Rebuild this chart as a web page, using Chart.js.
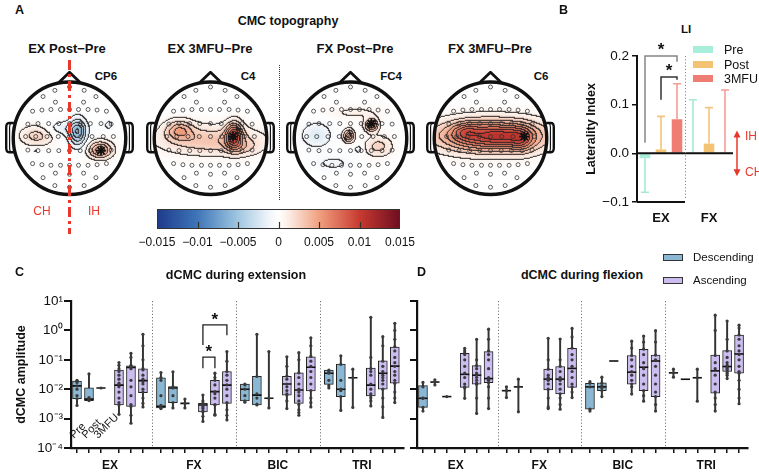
<!DOCTYPE html>
<html lang="en">
<head>
<meta charset="UTF-8">
<title>CMC topography, LI and dCMC</title>
<script src="https://cdn.jsdelivr.net/npm/chart.js"></script>
<style>
  body { margin: 0; width: 759px; height: 473px; position: relative; overflow: hidden; background: #fff;
         font-family: 'Liberation Sans', Arial, sans-serif; color: #111; }
  canvas, .t, .sw { position: absolute; }
  .t { white-space: nowrap; line-height: 1; }
  .c { transform: translate(-50%, -50%); }
  .m { transform: translateY(-50%); }
  .b { font-weight: bold; }
  .red { color: #e8382b; }
  .sw { border: 1px solid #333; box-sizing: border-box; }
</style>
</head>
<body>
  <!-- A -->
  <div class="t b" style="left:15px;top:4px;font-size:12.5px">A</div>
  <div class="t b c" style="left:288px;top:21px;font-size:12.5px">CMC topography</div>
  <div id="headTitles"></div>
  <canvas id="head0" width="143" height="146" style="left:-2px;top:61px"></canvas>
  <canvas id="head1" width="143" height="146" style="left:139px;top:61px"></canvas>
  <canvas id="head2" width="143" height="146" style="left:279px;top:61px"></canvas>
  <canvas id="head3" width="143" height="146" style="left:419px;top:61px"></canvas>
  <div style="position:absolute;left:279px;top:65px;height:135px;border-left:1.5px dotted #333"></div>
  <div style="position:absolute;left:68px;top:60px;width:3px;height:174px;
       background:repeating-linear-gradient(to bottom,#e8382b 0 10px,transparent 10px 14px,#e8382b 14px 17px,transparent 17px 21px)"></div>
  <div class="t c red" style="left:42px;top:211px;font-size:12px">CH</div>
  <div class="t c red" style="left:94px;top:211px;font-size:12px">IH</div>
  <canvas id="cbar" width="330" height="50" style="left:110px;top:200px"></canvas>

  <!-- B -->
  <div class="t b" style="left:559px;top:4px;font-size:12.5px">B</div>
  <div class="t b c" style="left:686px;top:30px;font-size:11.5px">LI</div>
  <canvas id="li" width="199" height="215" style="left:560px;top:20px"></canvas>
  <div id="liLegend"></div>

  <!-- C / D -->
  <div class="t b" style="left:15px;top:266px;font-size:12.5px">C</div>
  <div class="t b c" style="left:236px;top:275px;font-size:12.5px">dCMC during extension</div>
  <div class="t b" style="left:417px;top:266px;font-size:12.5px">D</div>
  <div class="t b c" style="left:582px;top:275px;font-size:12.5px">dCMC during flexion</div>
  <div class="sw" style="left:663px;top:254px;width:20px;height:7px;background:#8ab7d4"></div>
  <div class="t m" style="left:693px;top:258px;font-size:11.5px">Descending</div>
  <div class="sw" style="left:663px;top:277px;width:20px;height:7px;background:#cbbdf0"></div>
  <div class="t m" style="left:693px;top:281px;font-size:11.5px">Ascending</div>
  <canvas id="ext" width="410" height="223" style="left:0;top:250px"></canvas>
  <canvas id="flx" width="354" height="223" style="left:405px;top:250px"></canvas>

<script>
// ---------- A: topography ----------
const mapTitles = ['EX Post−Pre', 'EX 3MFU−Pre', 'FX Post−Pre', 'FX 3MFU−Pre'];
const mapCentres = [67, 210, 355, 490];
const peakChannels = ['CP6', 'C4', 'FC4', 'C6'];
const peakLabelX = [106, 248, 391, 541];
const peakPos = [[0.56, -0.22], [0.4, 0.03], [0.37, 0.26], [0.6, 0.03]];

// electrode positions on the unit head (x right, y towards nose)
const electrodes = [
  [-0.26, 0.85], [0, 0.91], [0.26, 0.85],
  [-0.47, 0.74], [-0.25, 0.64], [0.25, 0.64], [0.47, 0.74],
  [-0.656, 0.48], [-0.49, 0.5], [-0.33, 0.51], [-0.16, 0.51], [0, 0.51], [0.16, 0.51], [0.33, 0.51], [0.49, 0.5], [0.656, 0.48],
  [-0.74, 0.25], [-0.56, 0.26], [-0.37, 0.26], [-0.19, 0.26], [0, 0.26], [0.19, 0.26], [0.37, 0.26], [0.56, 0.26], [0.74, 0.25],
  [-0.78, 0.03], [-0.6, 0.03], [-0.4, 0.03], [-0.2, 0.03], [0, 0.03], [0.2, 0.03], [0.4, 0.03], [0.6, 0.03], [0.78, 0.03],
  [-0.74, -0.21], [-0.56, -0.22], [-0.37, -0.22], [-0.19, -0.22], [0, -0.22], [0.19, -0.22], [0.37, -0.22], [0.56, -0.22], [0.74, -0.21],
  [-0.656, -0.45], [-0.49, -0.47], [-0.33, -0.48], [-0.16, -0.48], [0, -0.48], [0.16, -0.48], [0.33, -0.48], [0.49, -0.47], [0.656, -0.45],
  [-0.47, -0.7], [-0.25, -0.62], [0, -0.64], [0.25, -0.62], [0.47, -0.7],
  [-0.26, -0.84], [0, -0.87], [0.26, -0.84]
];

// CMC difference field as sources: [x, y, value, spreadX, spreadY]
const topoExPost = [[0.15, 0.1, -0.0055, 0.1, 0.16], [-0.1, 0.17, -0.0016, 0.22, 0.09], [0.55, -0.21, 0.0055, 0.14, 0.1],
                    [-0.58, 0.04, 0.0026, 0.2, 0.12], [0.7, 0.23, -0.0012, 0.06, 0.06], [-0.6, -0.23, -0.001, 0.05, 0.04]];
const topoEx3mfu = [[0.42, 0.05, 0.0078, 0.1, 0.15], [-0.55, 0.14, 0.004, 0.17, 0.12], [0, -0.04, 0.0032, 0.6, 0.17],
                    [0.55, -0.16, 0.0018, 0.2, 0.1]];
const topoFxPost = [[0.38, 0.23, 0.0058, 0.08, 0.075], [-0.03, 0.04, 0.0052, 0.065, 0.075], [0.5, -0.15, 0.0026, 0.16, 0.12],
                    [-0.6, 0.05, -0.002, 0.18, 0.15], [0.15, -0.2, -0.0013, 0.06, 0.06], [0.1, 0.45, 0.001, 0.35, 0.08],
                    [-0.3, -0.45, -0.001, 0.25, 0.1]];
const topoFx3mfu = [[0, 0.04, 0.0098, 0.62, 0.19], [0.55, -0.02, 0.0035, 0.15, 0.15], [-0.45, 0.12, 0.0025, 0.15, 0.1],
                    [0.2, 0.05, 0.0012, 0.2, 0.1]];
const topoMaps = [topoExPost, topoEx3mfu, topoFxPost, topoFx3mfu];

const colorbarTicks = [-0.015, -0.01, -0.005, 0, 0.005, 0.01, 0.015];
const colorbarLabels = ['−0.015', '−0.01', '−0.005', '0', '0.005', '0.01', '0.015'];

// ---------- B: laterality index ----------
const liGroups = ['EX', 'FX'];
const liSessions = ['Pre', 'Post', '3MFU'];
const liPre = [-0.01, 0.001];
const liPreSd = [0.07, 0.109];
const liPost = [0.008, 0.02];
const liPostSd = [0.068, 0.074];
const li3mfu = [0.07, 0.002];
const li3mfuSd = [0.073, 0.128];
const liTicks = [-0.1, 0, 0.1, 0.2];
const liTickLabels = ['−0.1', '0.0', '0.1', '0.2'];
// significance brackets: [from session, to session], heights
const liSig = [[0, 2], [1, 2]];
const liSigTop = [0.2, 0.157];
const liSigLeft = [0.022, 0.11];
const liSigRight = [0.188, 0.151];

// ---------- C / D: dCMC box plots ----------
const muscles = ['EX', 'FX', 'BIC', 'TRI'];
const sessions = ['Pre', 'Post', '3MFU'];
const boxOffsets = [0.75, 1.75, 2.75, 4.25, 5.25, 6.25]; // 3 descending, 3 ascending
const ampTicks = [1e-4, 1e-3, 1e-2, 1e-1, 1, 10];
const ampTickLabels = ['10⁻⁴', '10⁻³', '10⁻²', '10⁻¹', '10⁰', '10¹'];

const extMin = [.0028, .004, .011, .0014, .0007, .0025, .0022, .0023, .0023, .0008, .0013, .0009,
                .0036, .0029, .0023, .0022, .0013, .0025, .011, .0019, .0024, .0027, .0011, .0035];
const extQ1 = [.0048, .0041, .011, .0029, .0026, .0076, .0023, .0035, .0033, .0017, .0029, .0033,
               .004, .0029, .0049, .0063, .0033, .0087, .0146, .0056, .0245, .0059, .01, .016];
const extMed = [.013, .0046, .011, .0138, .055, .0195, .0026, .011, .0033, .0029, .0083, .0138,
                .01, .0063, .0049, .015, .0094, .056, .035, .01, .0245, .0138, .035, .061];
const extQ3 = [.019, .0112, .011, .045, .062, .049, .0245, .0123, .0033, .0033, .02, .04,
               .0148, .0275, .0049, .0275, .036, .126, .045, .072, .0245, .052, .093, .27];
const extMax = [.02, .033, .011, .081, .166, .74, .037, .039, .0046, .0063, .035, .19,
                .015, .74, .19, .126, .175, .56, .045, .137, .048, 2.79, .61, 1.74];
const extPts = [
  [.02, .019, .017, .013, .01, .006, .0047, .0028], [.0041, .0043, .0046, .0048, .0052, .033], [.011],
  [.081, .065, .05, .04, .03, .022, .016, .012, .008, .005, .0035, .0029, .0014],
  [.166, .12, .065, .06, .055, .05, .02, .012, .006, .003, .0026, .0013, .0007],
  [.74, .3, .1, .05, .045, .03, .022, .018, .015, .01, .008, .005, .0033, .0025],
  [.037, .025, .02, .006, .0028, .0025, .0023, .0022], [.039, .012, .011, .006, .0035, .0023], [.0046, .0033, .0023],
  [.0063, .004, .0033, .003, .0028, .0025, .0022, .0018, .0017, .0012, .0008],
  [.035, .025, .02, .014, .0083, .007, .005, .003, .0029, .0014, .0013],
  [.19, .09, .04, .03, .02, .014, .01, .006, .0035, .002, .0013, .0009],
  [.015, .014, .01, .006, .004, .0036], [.74, .027, .007, .005, .0031, .0029], [.19, .0049, .0023],
  [.126, .06, .028, .022, .015, .012, .009, .007, .0063, .004, .0022],
  [.175, .1, .036, .025, .015, .01, .008, .006, .004, .003, .002, .0016, .0013],
  [.56, .3, .13, .09, .06, .04, .025, .015, .009, .005, .0035, .0025],
  [.045, .04, .035, .02, .013, .011], [.137, .07, .02, .01, .009, .0056, .0019], [.048, .0245, .0024],
  [2.79, .12, .05, .04, .03, .015, .01, .007, .006, .005, .004, .0027],
  [.61, .3, .09, .06, .04, .03, .025, .02, .015, .01, .005, .0025, .0011],
  [1.74, 1, .5, .28, .2, .12, .08, .06, .04, .03, .02, .016, .008, .005, .0035]
];
// significant pairs in C (box indices), bracket heights
const extSig = [[9, 10], [9, 11]];
const extSigTop = [0.124, 1.53];
const extSigLeft = [0.052, 0.32];
const extSigRight = [0.052, 0.69];

const flxMin = [.0018, .014, .0056, .0049, .0015, .0022, .0052, .0017, null, .0022, .0021, .0052,
                .0018, .0056, .091, .0068, .0039, .0018, .0257, .0218, .0039, .0018, .023, .0032];
const flxQ1 = [.0024, .0175, .0056, .0116, .0148, .0166, .0089, .012, null, .0094, .0069, .0116,
               .0021, .0089, .091, .0148, .0089, .0056, .036, .0218, .0245, .0073, .04, .035];
const flxMed = [.0049, .0175, .0056, .032, .03, .023, .0089, .012, null, .022, .022, .051,
                .012, .012, .091, .038, .056, .091, .036, .0218, .0245, .042, .059, .158];
const flxQ3 = [.0132, .0175, .0056, .167, .063, .19, .0089, .012, null, .048, .059, .245,
               .0158, .0166, .091, .14, .229, .145, .036, .0218, .0245, .145, .204, .69];
const flxMax = [.017, .021, .0056, .245, .5, 1.1, .012, .022, null, .54, .51, 1.17,
                .018, .0257, .091, .43, .64, .98, .048, .0218, .048, 3.3, 2.09, 1.5];
const flxPts = [
  [.017, .012, .005, .0049, .0024, .0018], [.021, .0175, .014], [.0056],
  [.245, .2, .17, .15, .1, .06, .035, .025, .015, .012, .011, .0049],
  [.5, .1, .063, .05, .035, .03, .025, .02, .016, .0148, .005, .0015],
  [1.1, .5, .2, .15, .1, .05, .025, .022, .02, .017, .012, .005, .0022],
  [.012, .0089, .0052], [.022, .012, .0017], [],
  [.54, .1, .048, .03, .025, .022, .02, .015, .01, .005, .0025, .0022],
  [.51, .1, .06, .04, .025, .02, .015, .01, .007, .005, .003, .0021],
  [1.17, .6, .25, .15, .1, .06, .04, .025, .015, .012, .008, .0052],
  [.018, .016, .012, .0021, .0018], [.0257, .016, .013, .011, .009, .0056], [],
  [.43, .25, .14, .1, .06, .04, .03, .02, .015, .012, .0068],
  [.64, .4, .23, .15, .08, .05, .03, .015, .009, .006, .0039],
  [.98, .4, .145, .1, .06, .03, .015, .008, .0056, .003, .0018],
  [.048, .036, .0257], [], [.048, .0245, .0039],
  [3.3, 1, .14, .08, .05, .03, .015, .008, .005, .003, .0018],
  [2.09, .5, .2, .12, .08, .065, .055, .05, .045, .04, .035, .03, .023],
  [1.5, 1.2, .7, .5, .3, .2, .15, .1, .06, .04, .035, .02, .01, .005, .0032]
];

// ---------- setup ----------
const fam = "'Liberation Sans', Arial, sans-serif";
Chart.defaults.font.family = fam;
Chart.defaults.color = '#111';
Chart.defaults.animation = false;
Chart.defaults.events = [];
Chart.defaults.plugins.legend.display = false;
Chart.defaults.plugins.tooltip.enabled = false;

const cmapStops = [[-0.015, [30, 58, 140]], [-0.01, [62, 118, 184]], [-0.005, [160, 199, 225]], [-0.0012, [240, 245, 250]],
                   [0, [255, 255, 255]], [0.0012, [252, 238, 230]],
                   [0.005, [240, 160, 128]], [0.01, [200, 58, 48]], [0.015, [110, 14, 32]]];
function cmap(v) {
  const s = cmapStops;
  if (v <= s[0][0]) return s[0][1];
  for (let i = 1; i < s.length; i++) {
    if (v <= s[i][0]) {
      const t = (v - s[i - 1][0]) / (s[i][0] - s[i - 1][0]);
      return s[i - 1][1].map((c, k) => c + (s[i][1][k] - c) * t);
    }
  }
  return s[s.length - 1][1];
}

// titles and channel labels
let html = '';
mapTitles.forEach((t, i) => {
  html += `<div class="t b c" style="left:${mapCentres[i]}px;top:48px;font-size:13px">${t}</div>`;
  html += `<div class="t b c" style="left:${peakLabelX[i]}px;top:77px;font-size:11.5px">${peakChannels[i]}</div>`;
});
document.getElementById('headTitles').innerHTML = html;

function topoPlugin(blobs) {
  const step = 0.0013;
  return {
    id: 'topo',
    beforeDatasetsDraw(chart) {
      const {ctx, chartArea: a, scales: {x, y}} = chart;
      const w = Math.round(a.right - a.left), h = Math.round(a.bottom - a.top);
      const off = document.createElement('canvas');
      off.width = w; off.height = h;
      const octx = off.getContext('2d');
      const img = octx.createImageData(w, h);
      const field = new Float32Array(w * h), inside = new Uint8Array(w * h);
      for (let j = 0; j < h; j++) {
        for (let i = 0; i < w; i++) {
          const ux = x.getValueForPixel(a.left + i + 0.5), uy = y.getValueForPixel(a.top + j + 0.5);
          if (ux * ux + uy * uy > 1) continue;
          const k = j * w + i;
          let v = 0;
          for (const [bx, by, bv, sx, sy] of blobs) {
            v += bv * Math.exp(-((ux - bx) ** 2 / (2 * sx * sx) + (uy - by) ** 2 / (2 * sy * sy)));
          }
          field[k] = v; inside[k] = 1;
          const c = cmap(v);
          img.data[k * 4] = c[0]; img.data[k * 4 + 1] = c[1]; img.data[k * 4 + 2] = c[2]; img.data[k * 4 + 3] = 255;
        }
      }
      const lvl = v => Math.sign(v) * Math.floor(Math.abs(v) / step + 0.4);
      for (let j = 0; j < h - 1; j++) {
        for (let i = 0; i < w - 1; i++) {
          const k = j * w + i;
          if (!inside[k]) continue;
          const l = lvl(field[k]);
          if ((inside[k + 1] && lvl(field[k + 1]) !== l) || (inside[k + w] && lvl(field[k + w]) !== l)) {
            img.data[k * 4] = 40; img.data[k * 4 + 1] = 34; img.data[k * 4 + 2] = 34;
          }
        }
      }
      octx.putImageData(img, 0, 0);
      ctx.drawImage(off, a.left, a.top);

      // head, nose and ears
      const px = v => x.getPixelForValue(v), py = v => y.getPixelForValue(v);
      const r = px(1) - px(0);
      ctx.save();
      ctx.strokeStyle = '#111'; ctx.lineJoin = 'round';
      ctx.lineWidth = 3.4;
      ctx.beginPath(); ctx.arc(px(0), py(0), r, 0, Math.PI * 2); ctx.stroke();
      ctx.lineWidth = 2.8;
      ctx.beginPath(); ctx.moveTo(px(-0.19), py(0.99)); ctx.lineTo(px(0), py(1.17)); ctx.lineTo(px(0.19), py(0.99)); ctx.stroke();
      [-1, 1].forEach(sd => {
        [1.125, 1.065].forEach((e, n) => {
          ctx.lineWidth = n ? 1.2 : 2.4;
          ctx.beginPath();
          ctx.moveTo(px(sd * 0.99), py(0.27));
          ctx.lineTo(px(sd * (e - 0.05)), py(0.27));
          ctx.quadraticCurveTo(px(sd * e), py(0.27), px(sd * e), py(0.19));
          ctx.lineTo(px(sd * e), py(-0.17));
          ctx.quadraticCurveTo(px(sd * e), py(-0.25), px(sd * (e - 0.05)), py(-0.25));
          ctx.lineTo(px(sd * 0.99), py(-0.25));
          ctx.stroke();
        });
      });
      ctx.restore();
    }
  };
}

topoMaps.forEach((blobs, i) => {
  new Chart(document.getElementById('head' + i), {
    type: 'scatter',
    data: {
      datasets: [
        { data: [{x: peakPos[i][0], y: peakPos[i][1]}], pointStyle: 'star', pointRadius: 5,
          borderColor: '#111', borderWidth: 1.8, backgroundColor: '#111' },
        { data: electrodes.map(e => ({x: e[0], y: e[1]})), pointRadius: 2,
          borderColor: '#333', borderWidth: 0.8, backgroundColor: 'rgba(255,255,255,0)' }
      ]
    },
    options: {
      responsive: false,
      layout: { padding: 0 },
      scales: { x: { display: false, min: -1.15, max: 1.15 }, y: { display: false, min: -1.1, max: 1.25 } }
    },
    plugins: [topoPlugin(blobs)]
  });
});

// colour bar
new Chart(document.getElementById('cbar'), {
  type: 'scatter',
  data: { datasets: [{ data: [] }] },
  options: {
    responsive: false,
    layout: { padding: { left: 47, right: 40, top: 9, bottom: 0 } },
    scales: {
      x: { min: -0.015, max: 0.015,
           afterBuildTicks: s => { s.ticks = colorbarTicks.map(v => ({value: v})); },
           ticks: { callback: (v, i) => colorbarLabels[i], font: { size: 12 }, padding: 6, autoSkip: false, maxRotation: 0 },
           grid: { display: false, drawTicks: false }, border: { display: false },
           afterFit: s => { s.height = 21; } },
      y: { display: false, min: 0, max: 1 }
    }
  },
  plugins: [{
    id: 'cbarFill',
    beforeDatasetsDraw(chart) {
      const {ctx, chartArea: a, scales: {x}} = chart;
      const g = ctx.createLinearGradient(a.left, 0, a.right, 0);
      for (let k = 0; k <= 60; k++) {
        const v = -0.015 + k * 0.0005;
        const c = cmap(v);
        const t = Math.min(1, Math.max(0, (x.getPixelForValue(v) - a.left) / (a.right - a.left)));
        g.addColorStop(t, `rgb(${c.map(Math.round).join(',')})`);
      }
      ctx.save();
      ctx.fillStyle = g;
      ctx.fillRect(a.left, a.top, a.right - a.left, a.bottom - a.top);
      ctx.strokeStyle = '#333'; ctx.lineWidth = 1;
      ctx.strokeRect(a.left + 0.5, a.top + 0.5, a.right - a.left - 1, a.bottom - a.top - 1);
      ctx.lineWidth = 1.2;
      colorbarTicks.slice(1, -1).forEach(v => {
        const p = Math.round(x.getPixelForValue(v)) + 0.5;
        ctx.beginPath(); ctx.moveTo(p, a.bottom); ctx.lineTo(p, a.bottom - 7); ctx.stroke();
      });
      ctx.restore();
    }
  }]
});

// ---------- B ----------
const liColors = ['#a9eedb', '#f4c273', '#ef7d74'];
const liErrColors = ['#a3ead6', '#f4c47c', '#f59c95'];
document.getElementById('liLegend').innerHTML = liSessions.map((s, i) =>
  `<div style="position:absolute;left:693px;top:${46 + i * 14.5}px;width:20px;height:7px;background:${liColors[i]}"></div>` +
  `<div class="t m" style="left:724px;top:${50 + i * 14.5}px;font-size:12.5px">${s}</div>`).join('');

const liPlugin = {
  id: 'liExtras',
  afterDatasetsDraw(chart) {
    const {ctx, chartArea: a, scales: {x, y}} = chart;
    ctx.save();
    // error bars
    chart.data.datasets.forEach((ds, d) => {
      chart.getDatasetMeta(d).data.forEach((el, i) => {
        const v = ds.data[i], sd = ds.sd[i];
        const yEnd = y.getPixelForValue(v + (v < 0 ? -sd : sd));
        ctx.strokeStyle = liErrColors[d]; ctx.lineWidth = 1.6;
        ctx.beginPath(); ctx.moveTo(el.x, el.y); ctx.lineTo(el.x, yEnd);
        ctx.moveTo(el.x - 4, yEnd); ctx.lineTo(el.x + 4, yEnd); ctx.stroke();
      });
    });
    // zero line, bottom line, separator
    const y0 = y.getPixelForValue(0);
    const sep = (x.getPixelForValue(0) + x.getPixelForValue(1)) / 2;
    ctx.strokeStyle = '#111'; ctx.lineWidth = 2;
    ctx.beginPath(); ctx.moveTo(a.left, y0); ctx.lineTo(a.right, y0);
    ctx.moveTo(a.left, a.bottom); ctx.lineTo(sep, a.bottom); ctx.stroke();
    ctx.strokeStyle = '#888'; ctx.lineWidth = 1; ctx.setLineDash([1.2, 2]);
    ctx.beginPath(); ctx.moveTo(Math.round(sep) + 0.5, a.top); ctx.lineTo(Math.round(sep) + 0.5, a.bottom - 2); ctx.stroke();
    ctx.setLineDash([]);
    // brackets
    liSig.forEach(([s0, s1], k) => {
      const xa = chart.getDatasetMeta(s0).data[0].x, xb = chart.getDatasetMeta(s1).data[0].x;
      const yt = y.getPixelForValue(liSigTop[k]);
      ctx.strokeStyle = k ? '#333' : '#858585'; ctx.lineWidth = 1.5;
      ctx.beginPath(); ctx.moveTo(xa, y.getPixelForValue(liSigLeft[k])); ctx.lineTo(xa, yt);
      ctx.lineTo(xb, yt); ctx.lineTo(xb, y.getPixelForValue(liSigRight[k])); ctx.stroke();
      ctx.fillStyle = '#111'; ctx.font = 'bold 17px ' + fam; ctx.textAlign = 'center'; ctx.textBaseline = 'alphabetic';
      ctx.fillText('*', (xa + xb) / 2, yt - 11 + 0.57 * 17);
    });
    // IH / CH arrow
    const ax = a.right + 4, yTop = y.getPixelForValue(0.047), yBot = y.getPixelForValue(-0.047);
    ctx.strokeStyle = '#e8382b'; ctx.fillStyle = '#e8382b'; ctx.lineWidth = 1.5;
    ctx.beginPath(); ctx.moveTo(ax, yTop + 4); ctx.lineTo(ax, yBot - 4); ctx.stroke();
    ctx.beginPath(); ctx.moveTo(ax, yTop); ctx.lineTo(ax - 3.5, yTop + 7); ctx.lineTo(ax + 3.5, yTop + 7); ctx.fill();
    ctx.beginPath(); ctx.moveTo(ax, yBot); ctx.lineTo(ax - 3.5, yBot - 7); ctx.lineTo(ax + 3.5, yBot - 7); ctx.fill();
    ctx.font = '12px ' + fam; ctx.textAlign = 'left'; ctx.textBaseline = 'middle';
    ctx.fillText('IH', ax + 8, y.getPixelForValue(0.034));
    ctx.fillText('CH', ax + 8, y.getPixelForValue(-0.04));
    ctx.restore();
  }
};

new Chart(document.getElementById('li'), {
  type: 'bar',
  data: {
    labels: liGroups,
    datasets: [
      { label: liSessions[0], data: liPre, sd: liPreSd, backgroundColor: liColors[0] },
      { label: liSessions[1], data: liPost, sd: liPostSd, backgroundColor: liColors[1] },
      { label: liSessions[2], data: li3mfu, sd: li3mfuSd, backgroundColor: liColors[2] }
    ]
  },
  options: {
    responsive: false,
    layout: { padding: { top: 36, right: 26, left: 0, bottom: 0 } },
    datasets: { bar: { barPercentage: 0.66, categoryPercentage: 1 } },
    scales: {
      x: { grid: { display: false, drawTicks: false }, border: { display: false },
           ticks: { font: { size: 13, weight: 'bold' }, padding: 9 },
           afterFit: s => { s.height = 33; } },
      y: { min: -0.1, max: 0.2,
           afterBuildTicks: s => { s.ticks = liTicks.map(v => ({value: v})); },
           ticks: { callback: (v, i) => liTickLabels[i], font: { size: 13.5 }, padding: 3 },
           grid: { drawOnChartArea: false, tickLength: 5, color: '#111', lineWidth: 1.5 },
           border: { color: '#111', width: 2 },
           title: { display: true, text: 'Laterality Index', font: { size: 12.5, weight: 'bold' }, padding: { top: 24, bottom: 0 } },
           afterFit: s => { s.width = 77; } }
    }
  },
  plugins: [liPlugin]
});

// ---------- C / D ----------
const boxPos = [];
muscles.forEach((m, g) => boxOffsets.forEach(o => boxPos.push(g * 7 + o)));

function boxExtras(showSessions, sig, sigTop, sigLeft, sigRight) {
  return {
    id: 'boxExtras',
    beforeDatasetsDraw(chart) {
      const {ctx, chartArea: a, scales: {x}} = chart;
      ctx.save();
      ctx.strokeStyle = '#777'; ctx.lineWidth = 1; ctx.setLineDash([1.2, 2]);
      for (let g = 1; g < muscles.length; g++) {
        const p = Math.round(x.getPixelForValue(g * 7)) + 0.5;
        ctx.beginPath(); ctx.moveTo(p, a.top); ctx.lineTo(p, a.bottom); ctx.stroke();
      }
      ctx.restore();
    },
    afterDatasetsDraw(chart) {
      const {ctx, chartArea: a, scales: {x, y}} = chart;
      ctx.save();
      ctx.fillStyle = '#111';
      ctx.font = 'bold 12px ' + fam; ctx.textAlign = 'center'; ctx.textBaseline = 'middle';
      muscles.forEach((m, g) => ctx.fillText(m, x.getPixelForValue(g * 7 + 3.5), a.bottom + 18));
      if (showSessions) {
        ctx.font = '11px ' + fam; ctx.textAlign = 'left'; ctx.textBaseline = 'alphabetic';
        sessions.forEach((s, b) => {
          ctx.save();
          ctx.translate(x.getPixelForValue(boxOffsets[b]) - 3, a.bottom - 9);
          ctx.rotate(-Math.PI / 4);
          ctx.fillText(s, 0, 0);
          ctx.restore();
        });
      }
      sig.forEach(([i0, i1], k) => {
        const xa = x.getPixelForValue(boxPos[i0]), xb = x.getPixelForValue(boxPos[i1]);
        const yt = y.getPixelForValue(sigTop[k]);
        ctx.strokeStyle = '#222'; ctx.lineWidth = 1.3;
        ctx.beginPath(); ctx.moveTo(xa, y.getPixelForValue(sigLeft[k])); ctx.lineTo(xa, yt);
        ctx.lineTo(xb, yt); ctx.lineTo(xb, y.getPixelForValue(sigRight[k])); ctx.stroke();
        ctx.font = 'bold 17px ' + fam; ctx.textAlign = 'center'; ctx.textBaseline = 'alphabetic';
        ctx.fillText('*', (xa + xb) / 2, yt - 10 + 0.57 * 17);
      });
      ctx.restore();
    }
  };
}

function boxChart(id, mins, q1s, meds, q3s, maxs, pts, yWidth, padRight, labels, extras) {
  const whisk = [], desc = [], asc = [], medPts = [], dots = [];
  boxPos.forEach((x, i) => {
    if (mins[i] == null) return;
    if (maxs[i] > mins[i]) whisk.push({x, y: [mins[i], maxs[i]]});
    if (q3s[i] > q1s[i]) ((i % 6) < 3 ? desc : asc).push({x, y: [q1s[i], q3s[i]]});
    medPts.push({x, y: meds[i]});
    pts[i].forEach(v => dots.push({x, y: v}));
  });
  const boxStyle = { type: 'bar', grouped: false, barThickness: 9, borderColor: '#222', borderWidth: 1, borderSkipped: false };
  new Chart(document.getElementById(id), {
    type: 'bar',
    data: {
      datasets: [
        { type: 'line', data: dots, showLine: false, pointRadius: 1.6, pointBorderWidth: 0,
          pointBackgroundColor: '#3a3a3a', order: 0 },
        { type: 'line', data: medPts, showLine: false, pointStyle: 'line', pointRadius: 4.6,
          pointBorderColor: '#111', pointBorderWidth: 1.6, order: 1 },
        Object.assign({ data: desc, backgroundColor: '#8ab7d4', order: 2 }, boxStyle),
        Object.assign({ data: asc, backgroundColor: '#cbbdf0', order: 2 }, boxStyle),
        { type: 'bar', data: whisk, grouped: false, barThickness: 1.3, backgroundColor: '#333', borderWidth: 0, order: 3 }
      ]
    },
    options: {
      responsive: false,
      layout: { padding: { top: 51, right: padRight, left: 0, bottom: 0 } },
      scales: {
        x: { type: 'linear', min: 0.25, max: 28, offset: false,
             afterBuildTicks: s => { s.ticks = boxPos.map(v => ({value: v})); },
             ticks: { callback: () => '', autoSkip: false, maxRotation: 0 },
             grid: { offset: false, drawOnChartArea: false, tickLength: 5, color: '#111', lineWidth: 1.5 },
             border: { color: '#111', width: 2.2 },
             afterFit: s => { s.height = 25; } },
        y: { type: 'logarithmic', min: 1e-4, max: 10,
             afterBuildTicks: s => { s.ticks = ampTicks.map(v => ({value: v})); },
             ticks: { display: labels, callback: (v, i) => ampTickLabels[i], font: { size: 13.5 }, padding: 1, autoSkip: false },
             grid: { drawOnChartArea: false, tickLength: 7, color: '#111', lineWidth: 2 },
             border: { color: '#111', width: 2.2 },
             title: { display: labels, text: 'dCMC amplitude', font: { size: 12.5, weight: 'bold' }, padding: { top: 14, bottom: 0 } },
             afterFit: s => { s.width = yWidth; } }
      }
    },
    plugins: [extras]
  });
}

boxChart('ext', extMin, extQ1, extMed, extQ3, extMax, extPts, 71, 6, true,
         boxExtras(true, extSig, extSigTop, extSigLeft, extSigRight));
boxChart('flx', flxMin, flxQ1, flxMed, flxQ3, flxMax, flxPts, 12, 11, false,
         boxExtras(false, [], [], [], []));
</script>
</body>
</html>
